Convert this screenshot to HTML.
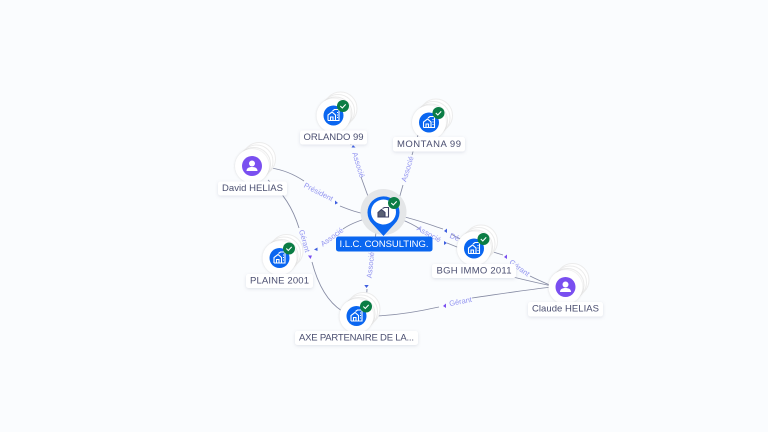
<!DOCTYPE html>
<html><head><meta charset="utf-8"><style>
html,body{margin:0;padding:0;background:#fafcfe}
svg{display:block;font-family:"Liberation Sans",sans-serif}
.e{fill:none;stroke:#868ba3;stroke-width:.85}
.l{fill:#9294f0;font-size:7.5px;text-anchor:middle;dominant-baseline:central}
.a{fill:#3f5fe0}
.n{fill:#4a4e70;font-size:9.5px;text-anchor:middle;dominant-baseline:central}
.r{fill:#fff;filter:url(#s)}
.c{fill:#fff;stroke:#ececec;stroke-width:1}
.i{fill:none;stroke:#fff;stroke-width:1.1}
</style></head><body>
<svg width="768" height="432" viewBox="0 0 768 432" xmlns="http://www.w3.org/2000/svg">
<defs>
<filter id="s" x="-20%" y="-40%" width="140%" height="200%"><feDropShadow dx="0" dy="1" stdDeviation="1.5" flood-color="#8890a8" flood-opacity=".25"/></filter>
<filter id="d" x="-30%" y="-30%" width="160%" height="160%"><feDropShadow dx="0" dy="0" stdDeviation="1" flood-color="#777" flood-opacity=".3"/></filter>
<g id="stack">
<circle class="c" cx="7" cy="-7" r="16.5"/><circle class="c" cx="4.5" cy="-4.5" r="16.5"/><circle class="c" cx="2" cy="-2" r="16.5"/>
<circle cx="0" cy="0" r="17" fill="#fff" filter="url(#d)"/>
</g>
<g id="co">
<use href="#stack"/>
<circle r="10" fill="#0a66f0"/>
<path class="i" d="M-5.500 5V-.5L-1.500-3.500 2-.5V5H-5.500M-3 5V1.500H-.5V5M-1-4.500L1-6H5.500V5H2"/>
<path d="M3.500-3h1M3.500-.5h1M3.500 2h1" stroke="#fff" stroke-width="1"/>
<circle cx="9.500" cy="-9.500" r="6" fill="#0b7d45"/>
<path d="M6.800-9.500l2 2 3.400-3.600" fill="none" stroke="#fff" stroke-width="1.100"/>
</g>
<g id="pe">
<use href="#stack"/>
<circle r="10" fill="#7a4ff0"/>
<circle cy="-2.500" r="3" fill="#fff"/>
<path d="M-5.500 5c0-3 2.500-4 5.500-4s5.500 1 5.500 4z" fill="#fff"/>
</g>
</defs>
<rect width="768" height="432" fill="#fafcfe"/>

<!-- connectors -->
<path class="e" d="M369 199L361 177M351 145L347 132"/>
<path class="e" d="M399 199L403 185M412 155L418 135"/>
<path class="e" d="M271 168C285 170 295 175 304 181M340 206C350 210 358 213 370 215"/>
<path class="e" d="M268 180C280 190 292 205 299 228M312 262C318 285 328 302 342 311"/>
<path class="e" d="M368 218C358 221 350 224 343 229"/>
<path class="e" d="M376 232L375.500 237M367 289L366.500 298"/>
<path class="e" d="M400 216C415 219 428 224 443 229M451 234L462 240"/>
<path class="e" d="M400 219C408 222 414 225 420 229M447 243L462 249"/>
<path class="e" d="M490 251L503 255M530 276C538 280 545 283 552 286"/>
<path class="e" d="M513 277C525 280 538 283 552 286"/>
<path class="e" d="M552 287C525 290 500 294 472 298M439 307C420 311 400 315 376 316"/>

<!-- arrowheads -->
<path class="a" d="M353 145l2.500 2.500h-4z"/>
<path class="a" d="M338 203l-3-2.500v4z"/>
<path class="a" d="M310.500 259l-2.500-3.500h4z" style="fill:#7a4ff0"/>
<path class="a" d="M314 249.500l3.500-2v3.500z"/>
<path class="a" d="M366.500 288l2.200-3h-4.400z"/>
<path class="a" d="M444 231l3-2.500v4.500z"/>
<path class="a" d="M447 243l-3-2v4z"/>
<path class="a" d="M504 257l3-2.500v4.500z" style="fill:#7a4ff0"/>
<path class="a" d="M443 306l3-2.500v4.500z" style="fill:#7a4ff0"/>

<!-- connector labels -->
<text class="l" transform="translate(358.500 165) rotate(73)">Associé</text>
<text class="l" transform="translate(407.500 169) rotate(-73)">Associé</text>
<text class="l" transform="translate(318.500 192) rotate(27)">Président</text>
<text class="l" transform="translate(304.500 241) rotate(74)">Gérant</text>
<text class="l" transform="translate(332 237) rotate(-36)">Associé</text>
<text class="l" transform="translate(370.500 265) rotate(-84)">Associé</text>
<text class="l" transform="translate(429 234) rotate(29)">Associé</text>
<text class="l" transform="translate(454.500 237) rotate(22)">Dé</text>
<text class="l" transform="translate(519.500 268) rotate(36)">Gérant</text>
<text class="l" transform="translate(460.500 301.500) rotate(-11)">Gérant</text>

<!-- central node -->
<circle cx="383.500" cy="212" r="23" fill="#e4e6e8"/>
<path d="M383.500 236L372.500 224A16 16 0 1 1 394.500 224Z" fill="#0a66f0"/>
<circle cx="383.500" cy="212" r="12.500" fill="#fff"/>
<g transform="translate(383.500 212.500)" fill="#596074" stroke="#3d4166" stroke-width="1.100">
<path d="M-5.500 4.500V0L-2-3 1.500 0V4.500Z"/><path fill="none" d="M-1-4L1-5H5V4.500H2"/>
</g>
<circle cx="394" cy="203" r="6" fill="#0b7d45"/>
<path d="M391.300 203l2 2 3.400-3.600" fill="none" stroke="#fff" stroke-width="1.100"/>
<rect x="336" y="236.500" width="96.500" height="15" rx="2.500" fill="#0a66f0"/>
<text x="384" y="244.500" fill="#fff" font-size="9.500" text-anchor="middle" dominant-baseline="central" textLength="89" lengthAdjust="spacing">I.L.C. CONSULTING.</text>

<!-- nodes -->
<use href="#co" x="333.500" y="115.500"/>
<use href="#co" x="429" y="122.500"/>
<use href="#co" x="279.500" y="258"/>
<use href="#co" x="356.500" y="316"/>
<use href="#co" x="474" y="248.500"/>
<use href="#pe" x="252" y="166"/>
<use href="#pe" x="565.500" y="287"/>

<!-- node labels -->
<rect class="r" x="300" y="130.500" width="67" height="14" rx="2.500"/>
<text class="n" x="333.500" y="137.500" textLength="60">ORLANDO 99</text>
<rect class="r" x="393" y="137" width="72" height="14.500" rx="2.500"/>
<text class="n" x="429" y="144.500" textLength="64">MONTANA 99</text>
<rect class="r" x="218" y="181.500" width="69" height="14" rx="2.500"/>
<text class="n" x="252.500" y="188.500" textLength="61">David HELIAS</text>
<rect class="r" x="246" y="274" width="67" height="14" rx="2.500"/>
<text class="n" x="279.500" y="281" textLength="59">PLAINE 2001</text>
<rect class="r" x="295" y="331" width="123" height="14" rx="2.500"/>
<text class="n" x="356.500" y="338" textLength="115">AXE PARTENAIRE DE LA...</text>
<rect class="r" x="432" y="264" width="84" height="14" rx="2.500"/>
<text class="n" x="474" y="271" textLength="75">BGH IMMO 2011</text>
<rect class="r" x="528" y="302" width="75" height="14.500" rx="2.500"/>
<text class="n" x="565.500" y="309" textLength="67">Claude HELIAS</text>
</svg>
</body></html>
